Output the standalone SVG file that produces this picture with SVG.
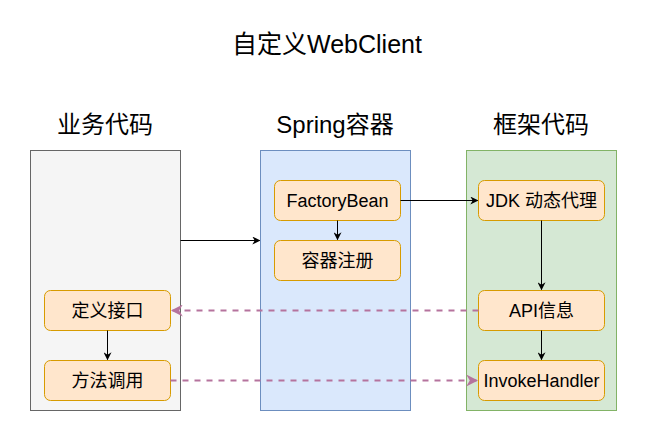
<svg xmlns="http://www.w3.org/2000/svg" width="647" height="441" viewBox="0 0 647 441">
<style>
text{font-family:"Liberation Sans","Noto Sans CJK SC",sans-serif;fill:#000;text-anchor:middle}
.title{font-size:24px}
.main{font-size:25px}
.lbl{font-size:18px}
.node{fill:#ffe6cc;stroke:#d79b00;stroke-width:1}
.edge{fill:none;stroke:#000;stroke-width:1}
.dash{fill:none;stroke:#b5739d;stroke-width:2;stroke-dasharray:6 6}
</style>
<defs>
<marker id="ah" viewBox="0 0 10 10" refX="9" refY="5" markerWidth="8" markerHeight="8" markerUnits="userSpaceOnUse" orient="auto">
<path d="M0,0 L10,5 L0,10 L3,5 Z" fill="#000"/>
</marker>
<marker id="ahp" viewBox="0 0 10 10" refX="9" refY="5" markerWidth="12" markerHeight="12" markerUnits="userSpaceOnUse" orient="auto">
<path d="M0,0 L10,5 L0,10 L3,5 Z" fill="#b5739d"/>
</marker>
</defs>
<rect width="647" height="441" fill="#fff"/>
<text class="main" x="327" y="53">自定义WebClient</text>
<g id="biz">
<rect x="30.5" y="150.5" width="150" height="260" fill="#f5f5f5" stroke="#666666"/>
<text class="title" x="105" y="133">业务代码</text>
</g>
<g id="spring">
<rect x="260.5" y="150.5" width="150" height="260" fill="#dae8fc" stroke="#6c8ebf"/>
<text class="title" x="335" y="133">Spring容器</text>
</g>
<g id="framework">
<rect x="466.5" y="150.5" width="150" height="260" fill="#d5e8d4" stroke="#82b366"/>
<text class="title" x="541" y="133">框架代码</text>
</g>
<g id="define">
<rect class="node" x="44.5" y="290.5" width="126" height="40" rx="6"/>
<text class="lbl" x="107.5" y="317">定义接口</text>
</g>
<g id="call">
<rect class="node" x="44.5" y="360.5" width="126" height="40" rx="6"/>
<text class="lbl" x="107.5" y="387">方法调用</text>
</g>
<g id="factorybean">
<rect class="node" x="274.5" y="180.5" width="126" height="40" rx="6"/>
<text class="lbl" x="337.5" y="207">FactoryBean</text>
</g>
<g id="register">
<rect class="node" x="274.5" y="240.5" width="126" height="40" rx="6"/>
<text class="lbl" x="337.5" y="267">容器注册</text>
</g>
<g id="jdk">
<rect class="node" x="478.5" y="180.5" width="126" height="40" rx="6"/>
<text class="lbl" x="541.5" y="207">JDK 动态代理</text>
</g>
<g id="api">
<rect class="node" x="478.5" y="290.5" width="126" height="40" rx="6"/>
<text class="lbl" x="541.5" y="317">API信息</text>
</g>
<g id="invoke">
<rect class="node" x="478.5" y="360.5" width="126" height="40" rx="6"/>
<text class="lbl" x="541.5" y="387">InvokeHandler</text>
</g>
<g id="connectors">
<path class="edge" d="M180.5,240.5 L259.5,240.5" marker-end="url(#ah)"/>
<path class="edge" d="M400.5,200.5 L477.5,200.5" marker-end="url(#ah)"/>
<path class="edge" d="M337.5,220.5 L337.5,239.5" marker-end="url(#ah)"/>
<path class="edge" d="M541.5,220.5 L541.5,289.5" marker-end="url(#ah)"/>
<path class="edge" d="M541.5,330.5 L541.5,359.5" marker-end="url(#ah)"/>
<path class="edge" d="M107.5,330.5 L107.5,359.5" marker-end="url(#ah)"/>
<path class="dash" d="M478.5,310.5 L172,310.5" marker-end="url(#ahp)"/>
<path class="dash" d="M170.5,380.5 L477,380.5" marker-end="url(#ahp)"/>
</g>
</svg>
